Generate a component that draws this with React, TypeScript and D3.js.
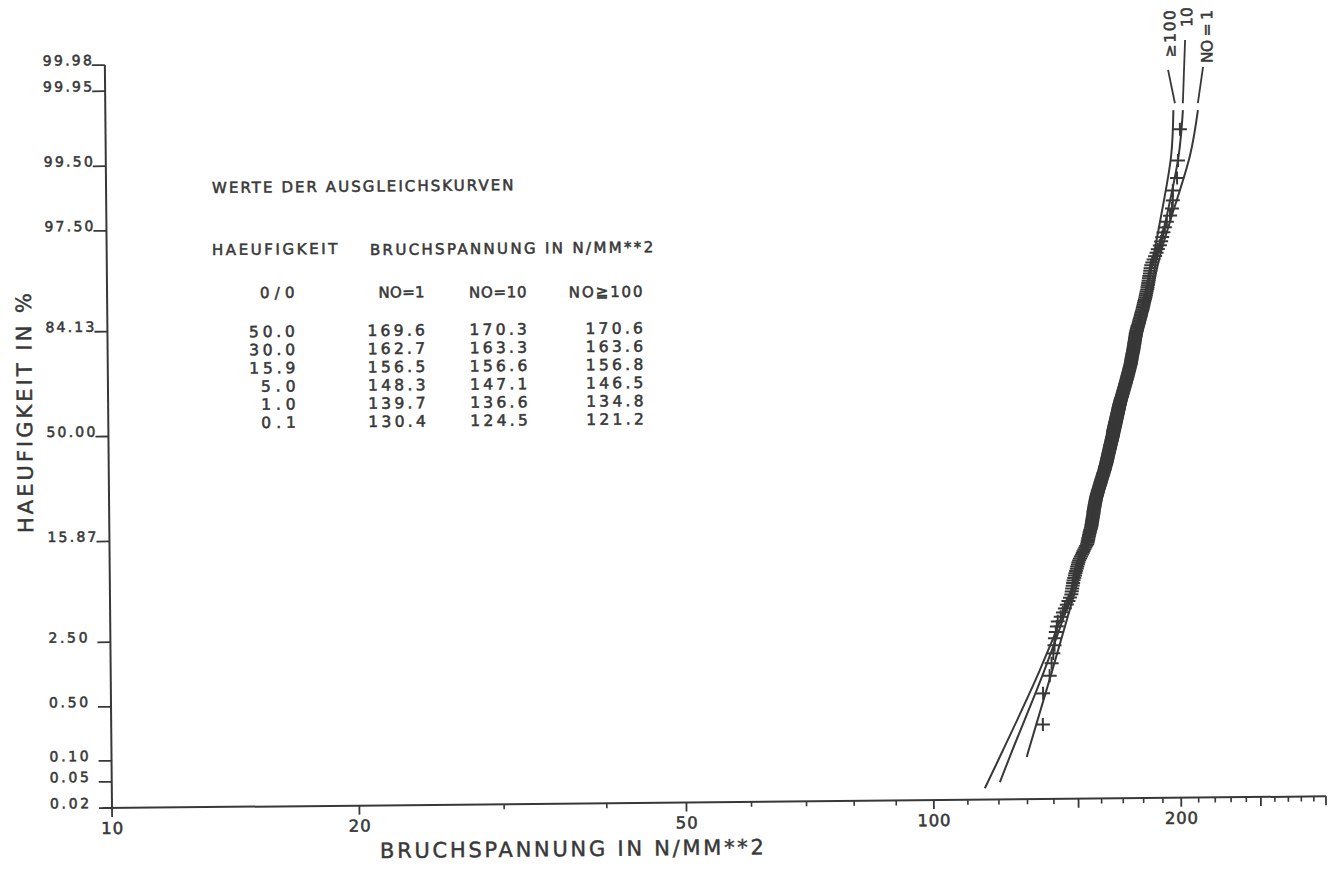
import React from "react";
import * as d3 from "d3";

// ---------- data ----------
const Y_TICKS = [0.02, 0.05, 0.1, 0.5, 2.5, 15.87, 50.0, 84.13, 97.5, 99.5, 99.95, 99.98];
const X_MAJOR = [10, 20, 50, 100, 200];
const X_MEDIUM = [150, 250, 300];
const X_MINOR = [30, 40, 60, 70, 80, 90, 110, 120, 130, 140, 160, 170, 180, 190, 210, 220, 230, 240, 260, 270, 280, 290];

const TABLE_PCT = ["50.0", "30.0", "15.9", "5.0", "1.0", "0.1"];
const TABLE_NO1 = ["169.6", "162.7", "156.5", "148.3", "139.7", "130.4"];
const TABLE_NO10 = ["170.3", "163.3", "156.6", "147.1", "136.6", "124.5"];
const TABLE_NO100 = ["170.6", "163.6", "156.8", "146.5", "134.8", "121.2"];

// fitted curves: [percent, stress]
const CURVE_NO1: [number, number][] = [[0.085, 129.9], [0.1, 130.4], [1, 139.7], [5, 148.3], [15.9, 156.5], [30, 162.7], [50, 169.6], [84.13, 183.0], [95, 191.5], [97.5, 197.0], [99.5, 208.5], [99.87, 213.5]];
const CURVE_NO10: [number, number][] = [[0.037, 120.4], [0.1, 124.5], [1, 136.6], [5, 147.1], [15.9, 156.6], [30, 163.3], [50, 170.3], [84.13, 182.5], [95, 190.0], [97.5, 194.5], [99.5, 202.0], [99.87, 204.7]];
const CURVE_NO100: [number, number][] = [[0.03, 115.4], [0.1, 121.2], [1, 134.8], [5, 146.5], [15.9, 156.8], [30, 163.6], [50, 170.6], [84.13, 181.0], [95, 188.0], [97.5, 191.5], [99.5, 197.8], [99.87, 199.3]];

// measured breaking stresses (sorted), plotted at median ranks
const STRESS = [
  136.0, 136.2, 138.8, 139.6, 140.3, 140.8, 141.0, 141.4, 141.8, 142.2,
  143.4, 144.3, 145.1, 145.9, 146.6, 147.2, 147.8,
  148.0, 148.2, 148.4, 148.6, 148.8, 149.1,
  149.4, 149.6, 149.9, 150.2, 150.4, 150.7, 150.9, 151.2,
  151.6, 152.0, 152.4, 152.8, 153.1, 153.5, 153.9, 154.3, 154.7,
  154.9, 155.0, 155.2, 155.3, 155.5, 155.6, 155.8, 155.9, 156.1, 156.3, 156.5,
  156.6, 156.7, 156.8, 156.9, 157.0, 157.1, 157.2, 157.3, 157.4, 157.5, 157.6, 157.6, 157.7, 157.8, 157.9, 158.0, 158.1, 158.2, 158.3, 158.4, 158.5, 158.6, 158.7, 158.8, 158.9,
  159.0, 159.2, 159.3, 159.5, 159.6, 159.7, 159.9, 160.0, 160.2, 160.3, 160.5, 160.6, 160.8, 160.9, 161.0, 161.2, 161.3, 161.5, 161.6, 161.8, 161.9, 162.1, 162.2, 162.3, 162.5, 162.6, 162.8, 162.9, 163.0, 163.1, 163.2, 163.4, 163.5,
  163.6, 163.7, 163.8, 163.9, 164.0, 164.1, 164.2, 164.3, 164.4, 164.5, 164.6, 164.7, 164.8, 164.9, 165.0, 165.1, 165.2, 165.3, 165.4, 165.5, 165.6, 165.7, 165.8, 165.9, 166.0, 166.1, 166.2, 166.3, 166.4, 166.5, 166.6, 166.7, 166.8, 166.8, 166.9, 166.9, 167.0,
  167.1, 167.2, 167.3, 167.4, 167.5, 167.6, 167.7, 167.8, 167.9, 168.0, 168.1, 168.2, 168.3, 168.4, 168.5, 168.6, 168.7, 168.8, 168.9, 169.0, 169.1, 169.2, 169.3, 169.4, 169.5, 169.6, 169.7, 169.8, 169.9, 170.0, 170.1, 170.3, 170.4, 170.5, 170.6, 170.8, 170.9, 171.1,
  171.2, 171.3, 171.5, 171.6, 171.7, 171.9, 172.0, 172.1, 172.3, 172.4, 172.5, 172.7, 172.8, 172.9, 173.1, 173.2, 173.3, 173.5, 173.6, 173.7, 173.9, 174.0, 174.1, 174.3, 174.4, 174.5, 174.7, 174.8, 174.9, 175.1, 175.2, 175.3, 175.5, 175.6,
  175.7, 175.8, 175.9, 176.0, 176.1, 176.2, 176.3, 176.4, 176.5, 176.6, 176.8, 176.9, 177.0, 177.1, 177.2, 177.3, 177.4, 177.5, 177.6, 177.7, 177.8, 177.9, 178.0, 178.1, 178.2, 178.3, 178.4, 178.6, 178.7,
  178.9, 179.1, 179.3, 179.6, 179.8, 180.0, 180.2, 180.4, 180.7, 180.9, 181.1, 181.3, 181.5, 181.8, 182.0, 182.2, 182.4, 182.6, 182.9, 183.1, 183.4,
  183.6, 183.8, 184.0, 184.3, 184.5, 184.7, 184.9, 185.1, 185.3, 185.5, 185.8, 186.0, 186.2, 186.5,
  187.1, 187.8, 188.6, 189.4, 190.1,
  191.2, 191.9, 192.5, 193.2, 194.0, 195.1, 196.9, 198.0, 198.5, 198.6, 201.0, 201.6, 202.9,
];

// ---------- helpers ----------
function probit(p: number): number {
  const a = [-3.969683028665376e1, 2.209460984245205e2, -2.759285104469687e2, 1.38357751867269e2, -3.066479806614716e1, 2.506628277459239];
  const b = [-5.447609879822406e1, 1.615858368580409e2, -1.556989798598866e2, 6.680131188771972e1, -1.328068155288572e1];
  const c = [-7.784894002430293e-3, -3.223964580411365e-1, -2.400758277161838, -2.549732539343734, 4.374664141464968, 2.938163982698783];
  const d = [7.784695709041462e-3, 3.224671290700398e-1, 2.445134137142996, 3.754408661907416];
  const pl = 0.02425;
  if (p < pl) {
    const q = Math.sqrt(-2 * Math.log(p));
    return (((((c[0] * q + c[1]) * q + c[2]) * q + c[3]) * q + c[4]) * q + c[5]) / ((((d[0] * q + d[1]) * q + d[2]) * q + d[3]) * q + 1);
  }
  if (p <= 1 - pl) {
    const q = p - 0.5;
    const r = q * q;
    return ((((((a[0] * r + a[1]) * r + a[2]) * r + a[3]) * r + a[4]) * r + a[5]) * q) / (((((b[0] * r + b[1]) * r + b[2]) * r + b[3]) * r + b[4]) * r + 1);
  }
  const q = Math.sqrt(-2 * Math.log(1 - p));
  return -(((((c[0] * q + c[1]) * q + c[2]) * q + c[3]) * q + c[4]) * q + c[5]) / ((((d[0] * q + d[1]) * q + d[2]) * q + d[3]) * q + 1);
}

const INK = "#383838";
const FONT = "'DejaVu Sans', sans-serif";

function T(props: { x: number; y: number; s: string; fs: number; pitch: number; anchor?: string; rot?: boolean; sw?: number }) {
  const { x, y, s, fs, pitch, anchor = "start", rot = false, sw = 0.55 } = props;
  const common = {
    fontFamily: FONT,
    fontSize: fs,
    fill: INK,
    stroke: INK,
    strokeWidth: sw,
    textAnchor: anchor as any,
    textLength: s.length * pitch,
    lengthAdjust: "spacing" as any,
  };
  if (rot) {
    return (
      <text transform={`translate(${x},${y}) rotate(-90)`} x={0} y={0} {...common}>
        {s}
      </text>
    );
  }
  return (
    <text x={x} y={y} {...common}>
      {s}
    </text>
  );
}

export default function App() {
  const X0 = 112;
  const Y0 = 808;
  const xs = d3.scaleLog().domain([10, 300]).range([X0, 1326]);
  const zs = d3.scaleLinear().domain([probit(0.0002), probit(0.9998)]).range([Y0, 65]);
  const yp = (pct: number) => zs(probit(pct / 100));

  const line = d3
    .line<[number, number]>()
    .x((d) => xs(d[1]))
    .y((d) => yp(d[0]))
    .curve(d3.curveCatmullRom.alpha(0.5));

  const n = STRESS.length;
  const pts = STRESS.map((v, i) => ({ x: xs(v), y: yp(((i + 1 - 0.3) / (n + 0.4)) * 100) }));

  const curves = [
    { data: CURVE_NO100, label: "\u2265100", lx: 1182.7, ly: 20.4, lw: 47, tx: 1175.1, ty: 80.1, dx: 1.6 },
    { data: CURVE_NO10, label: "10", lx: 1199.7, ly: 17.5, lw: 20, tx: 1192.4, ty: 50.3, dx: 0 },
    { data: CURVE_NO1, label: "NO = 1", lx: 1219.7, ly: 20.5, lw: 53, tx: 1210.1, ty: 77.5, dx: 0 },
  ];

  const rowY = (i: number) => 338.5 + i * 18.2;
  const cols = [
    { r: 299.5, vals: TABLE_PCT, head: "0/0" },
    { r: 429.5, vals: TABLE_NO1, head: "NO=1" },
    { r: 531.5, vals: TABLE_NO10, head: "NO=10" },
    { r: 647.5, vals: TABLE_NO100, head: "NO\u2267100" },
  ];

  return (
    <svg width={1334} height={876} style={{ position: "absolute", left: 0, top: 0, display: "block" }}>
      <rect x={0} y={0} width={1334} height={876} fill="#ffffff" />
      <g transform={`rotate(-0.55, ${X0}, ${Y0})`}>
        {/* axes */}
        <line x1={103} y1={Y0} x2={xs(300)} y2={Y0} stroke={INK} strokeWidth={2} />
        <line x1={X0} y1={Y0} x2={X0} y2={zs(probit(0.9998))} stroke={INK} strokeWidth={2} />
        {X_MAJOR.map((v) => (
          <g key={"M" + v}>
            <line x1={xs(v)} x2={xs(v)} y1={Y0} y2={Y0 + 9} stroke={INK} strokeWidth={1.8} />
            <T x={xs(v)} y={Y0 + 26} s={String(v)} fs={16.5} pitch={11} anchor="middle" />
          </g>
        ))}
        {X_MEDIUM.map((v) => (
          <line key={"D" + v} x1={xs(v)} x2={xs(v)} y1={Y0} y2={Y0 + 9} stroke={INK} strokeWidth={1.8} />
        ))}
        {X_MINOR.map((v) => (
          <line key={"m" + v} x1={xs(v)} x2={xs(v)} y1={Y0} y2={Y0 + 5} stroke={INK} strokeWidth={1.6} />
        ))}
        {Y_TICKS.map((p) => (
          <g key={"y" + p}>
            <line x1={99} x2={X0} y1={yp(p)} y2={yp(p)} stroke={INK} strokeWidth={1.8} />
            <T x={50} y={yp(p)} s={p.toFixed(2)} fs={14} pitch={9.8} />
          </g>
        ))}
        <T x={379.5} y={860.6} s="BRUCHSPANNUNG IN N/MM**2" fs={21} pitch={16} sw={0.45} />
        <T x={35.8} y={412.2} s="HAEUFIGKEIT IN %" fs={21} pitch={15} anchor="middle" rot sw={0.45} />

        {/* table */}
        <T x={217.9} y={194} s="WERTE DER AUSGLEICHSKURVEN" fs={15} pitch={11.6} />
        <T x={217.3} y={256} s="HAEUFIGKEIT" fs={15} pitch={11.4} />
        <T x={375.3} y={257.5} s="BRUCHSPANNUNG IN N/MM**2" fs={15} pitch={11.8} />
        {cols.map((c, ci) => (
          <g key={"c" + ci}>
            <T x={c.r} y={299.5 + ci * 0.8} s={c.head} fs={15} pitch={ci === 3 ? 12.3 : 11.5} anchor="end" />
            {c.vals.map((v, i) => (
              <T key={i} x={c.r} y={rowY(i)} s={v} fs={15.5} pitch={11.5} anchor="end" />
            ))}
          </g>
        ))}

        {/* curves */}
        {curves.map((c, i) => {
          const last = c.data[c.data.length - 1];
          const ex = xs(last[1]);
          const ey = yp(last[0]);
          return (
            <g key={"cv" + i}>
              <path d={line(c.data) || ""} fill="none" stroke={INK} strokeWidth={2} />
              <line x1={ex + c.dx} y1={ey - 7} x2={c.tx} y2={c.ty} stroke={INK} strokeWidth={1.8} />
              <T x={c.lx} y={c.ly} s={c.label} fs={15.5} pitch={c.lw / c.label.length} anchor="end" rot />
            </g>
          );
        })}

        {/* data points */}
        {pts.map((p, i) => (
          <g key={"p" + i} stroke={INK} strokeWidth={2}>
            <line x1={p.x - 7} x2={p.x + 7} y1={p.y} y2={p.y} />
            <line x1={p.x} x2={p.x} y1={p.y - 6.5} y2={p.y + 6.5} />
          </g>
        ))}
      </g>
    </svg>
  );
}
